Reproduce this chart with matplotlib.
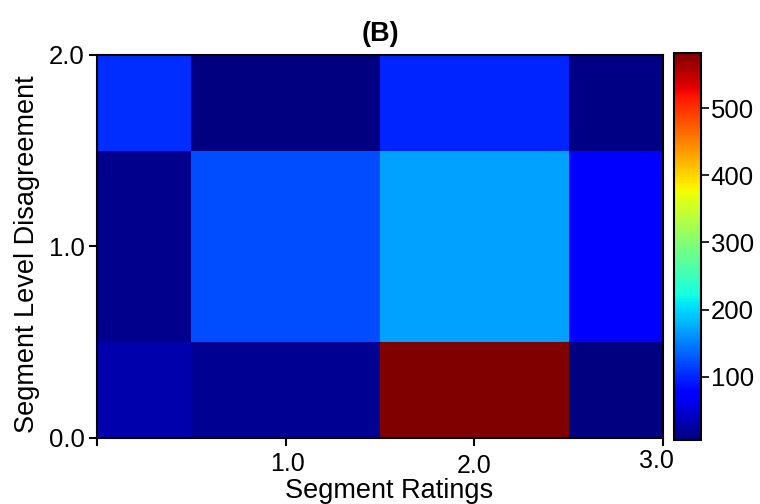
import matplotlib
matplotlib.use('Agg')
import matplotlib.pyplot as plt
import matplotlib.transforms as mtransforms
import numpy as np

plt.rcParams['font.family'] = ['Liberation Sans', 'DejaVu Sans']

# bin edges of the 2d histogram
x_edges = [0.0, 0.5, 1.5, 2.5, 3.0]
y_edges = [0.0, 0.5, 1.5, 2.0]

# counts, rows from bottom (disagreement 0) to top (disagreement 2)
counts_row0 = [30, 15, 582, 7]
counts_row1 = [14, 121, 170, 72]
counts_row2 = [103, 8, 100, 10]

x_ticks = [0.0, 1.0, 2.0, 3.0]
x_tick_labels = ['', '1.0', '2.0', '3.0']
y_ticks = [0.0, 1.0, 2.0]
y_tick_labels = ['0.0', '1.0', '2.0']
cbar_ticks = [100, 200, 300, 400, 500]

counts = np.array([counts_row0, counts_row1, counts_row2])

fig = plt.figure(figsize=(7.6, 5.04), dpi=100)
ax = fig.add_axes([0.1276, 0.131, 0.7447, 0.760])
cax = fig.add_axes([0.887, 0.127, 0.0355, 0.768])

mesh = ax.pcolormesh(x_edges, y_edges, counts, cmap='jet', vmin=6, vmax=582)
ax.set_xlim(0, 3)
ax.set_ylim(0, 2)

ax.set_xticks(x_ticks)
ax.set_xticklabels(x_tick_labels, fontsize=18)
ax.set_yticks(y_ticks)
ax.set_yticklabels(y_tick_labels, fontsize=18.5)
ax.tick_params(direction='out', length=6, width=1.5, pad=3)
ax.tick_params(axis='x', pad=4)
for s in ax.spines.values():
    s.set_linewidth(1.5)

# the original tick labels sit a bit off their ticks
shifts = {'1.0': (2, 0), '2.0': (0, -2), '3.0': (-7, 3)}
for lab in ax.get_xticklabels():
    dx, dy = shifts.get(lab.get_text(), (0, 0))
    lab.set_transform(lab.get_transform() + mtransforms.ScaledTranslation(dx / 100, dy / 100, fig.dpi_scale_trans))

ax.set_xlabel('Segment Ratings', fontsize=19.5)
ax.xaxis.set_label_coords(0.516, -0.104)
ax.set_ylabel('Segment Level Disagreement', fontsize=19.5)
ax.yaxis.set_label_coords(-0.1, 0.48)
ax.set_title('(B)', fontsize=19.5, fontweight='bold', pad=10)

cb = fig.colorbar(mesh, cax=cax, ticks=cbar_ticks)
cb.ax.tick_params(labelsize=18.5, length=6, width=1.2, pad=1)
cb.outline.set_linewidth(1.5)

plt.savefig('out.png', dpi=100)
